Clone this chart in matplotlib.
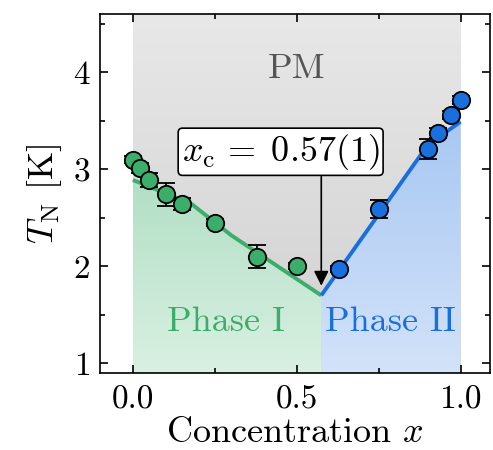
import matplotlib
matplotlib.use('Agg')
import matplotlib.pyplot as plt
import numpy as np
from matplotlib.colors import LinearSegmentedColormap
from matplotlib.patches import Polygon
from matplotlib.ticker import MultipleLocator

plt.rcParams['font.family'] = 'serif'
plt.rcParams['font.serif'] = ['cmr10']
plt.rcParams['mathtext.fontset'] = 'cm'
plt.rcParams['axes.unicode_minus'] = False
plt.rcParams['axes.formatter.use_mathtext'] = True

# phase I data
x1 = [0.0, 0.022, 0.05, 0.10, 0.15, 0.25, 0.38, 0.50]
y1 = [3.10, 3.01, 2.89, 2.74, 2.64, 2.45, 2.10, 2.00]
e1 = [0.04, 0.05, 0.075, 0.12, 0.065, 0.04, 0.115, 0.03]
# phase II data
x2 = [0.63, 0.75, 0.90, 0.93, 0.97, 1.0]
y2 = [1.97, 2.59, 3.21, 3.37, 3.56, 3.71]
e2 = [0.03, 0.09, 0.10, 0.05, 0.04, 0.04]

xc = 0.575
# phase boundaries
bx1 = [0.0, 0.18, 0.30, xc]
by1 = [2.89, 2.64, 2.32, 1.70]
bx2 = [xc, 0.90, 1.0]
by2 = [1.70, 3.25, 3.49]

green = '#3aae6a'
blue = '#1a6fdf'
ylo, yhi = 0.9, 4.6
fs = 26
fs_tick = 24

fig = plt.figure(figsize=(4.93, 4.5), dpi=100)
ax = fig.add_axes([0.203, 0.171, 0.791, 0.798])


def gradient(c_bot, c_top, extent, clip=None):
    cm = LinearSegmentedColormap.from_list('g', [c_bot, c_top])
    g = np.linspace(0, 1, 256).reshape(-1, 1)
    im = ax.imshow(g, extent=extent, origin='lower', aspect='auto',
                   cmap=cm, zorder=0, interpolation='bicubic')
    if clip is not None:
        im.set_clip_path(clip)
    return im


gradient('#d0d0d0', '#e8e8e8', [0, 1, ylo, yhi])

p1 = Polygon(list(zip(bx1, by1)) + [(xc, ylo), (0, ylo)], closed=True,
             facecolor='none', edgecolor='none', transform=ax.transData)
ax.add_patch(p1)
gradient('#d9f0e2', '#b0dec3', [0, xc, ylo, 3.0], clip=p1)

p2 = Polygon(list(zip(bx2, by2)) + [(1.0, ylo), (xc, ylo)], closed=True,
             facecolor='none', edgecolor='none', transform=ax.transData)
ax.add_patch(p2)
gradient('#d3e3f9', '#a6c6f2', [xc, 1.0, ylo, 3.6], clip=p2)

ax.plot(bx1, by1, color=green, lw=2.8, zorder=2, solid_capstyle='butt')
ax.plot(bx2, by2, color=blue, lw=2.8, zorder=2, solid_capstyle='butt')

ax.errorbar(x1, y1, yerr=e1, fmt='o', color=green, mec='black', mew=1.3,
            ms=12.5, ecolor='black', elinewidth=1.3, capsize=6.5, capthick=1.3, zorder=4)
ax.errorbar(x2, y2, yerr=e2, fmt='o', color=blue, mec='black', mew=1.3,
            ms=12.5, ecolor='black', elinewidth=1.3, capsize=6.5, capthick=1.3, zorder=4)

ax.text(0.5, 4.03, 'PM', color='#555555', fontsize=fs, ha='center', va='center')
ax.text(0.285, 1.42, 'Phase I', color=green, fontsize=fs, ha='center', va='center')
ax.text(0.786, 1.42, 'Phase II', color=blue, fontsize=fs, ha='center', va='center')

ax.annotate('', xy=(xc, 1.80), xytext=(xc, 2.97),
            arrowprops=dict(arrowstyle='-|>', color='black', lw=1.2,
                            mutation_scale=22, shrinkA=0, shrinkB=0), zorder=5)
ax.text(0.451, 3.18, r'$x_\mathrm{c}\,=\;0.57(1)$', fontsize=fs, ha='center', va='center',
        bbox=dict(boxstyle='round,pad=0.1,rounding_size=0.12', fc='white', ec='black', lw=1.2),
        zorder=6)

ax.set_xlim(-0.1, 1.09)
ax.set_ylim(ylo, yhi)
ax.xaxis.set_major_locator(MultipleLocator(0.5))
ax.xaxis.set_minor_locator(MultipleLocator(0.25))
ax.yaxis.set_major_locator(MultipleLocator(1))
ax.yaxis.set_minor_locator(MultipleLocator(0.5))
ax.set_xticks([0.0, 0.5, 1.0])
ax.set_xticklabels(['0.0', '0.5', '1.0'])
ax.tick_params(which='both', direction='in', top=True, right=True, labelsize=fs_tick, width=1.2)
ax.tick_params(which='major', length=6)
ax.tick_params(which='minor', length=3.5)
ax.tick_params(axis='x', which='major', pad=9)
ax.tick_params(axis='y', which='major', pad=7)
for s in ax.spines.values():
    s.set_linewidth(1.2)

ax.set_xlabel(r'Concentration $x$', fontsize=fs, labelpad=2)
ax.set_ylabel(r'$T_\mathrm{N}$ [K]', fontsize=fs, labelpad=6)

fig.savefig('out.png', dpi=100)
